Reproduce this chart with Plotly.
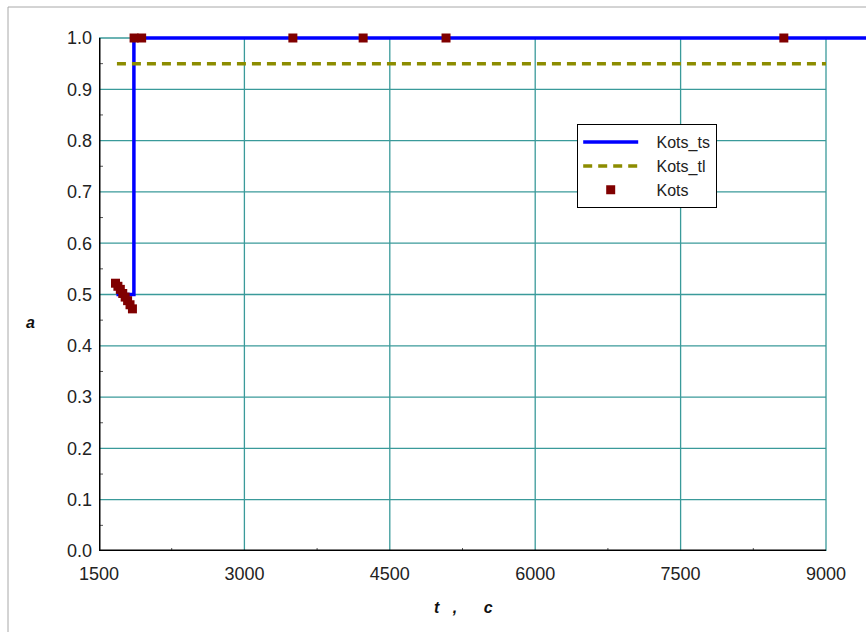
import plotly.graph_objects as go

# Kots_ts: step response
ts_t = [1680, 1860, 1860, 9500]
ts_a = [0.5, 0.5, 1.0, 1.0]

# Kots_tl: threshold level
tl_t = [1685, 9000]
tl_a = [0.95, 0.95]

# Kots: measured points
kots_t = [1670, 1695, 1720, 1745, 1770, 1795, 1820, 1845,
          1862, 1940, 3500, 4225, 5080, 8565]
kots_a = [0.522, 0.516, 0.510, 0.502, 0.495, 0.488, 0.480, 0.472,
          1.0, 1.0, 1.0, 1.0, 1.0, 1.0]

x_ticks = [1500, 3000, 4500, 6000, 7500, 9000]
y_ticks = [0.0, 0.1, 0.2, 0.3, 0.4, 0.5, 0.6, 0.7, 0.8, 0.9, 1.0]

X_MIN, X_MAX = 1500, 9000
Y_MIN, Y_MAX = 0.0, 1.0

GRID = "#3a9a9a"
FONT = "Arial, Liberation Sans, sans-serif"
PAD = "\u00a0\u00a0\u00a0"

# plot area geometry (pixels)
W, H = 866, 632
L, T, R, B = 99, 30, 0, 81
pw = W - L - R
ph = H - T - B
px_per_unit = (826 - 99) / (X_MAX - X_MIN)
x_range_max = X_MIN + pw / px_per_unit
y_range_max = ph / (551 - 38)

fig = go.Figure()

fig.add_trace(go.Scatter(
    x=ts_t, y=ts_a, mode="lines", name=PAD + "Kots_ts",
    line=dict(color="#0000ff", width=3.5),
))
fig.add_trace(go.Scatter(
    x=tl_t, y=tl_a, mode="lines", name=PAD + "Kots_tl",
    line=dict(color="#8c8c00", width=3.5, dash="9px,6px"),
))
fig.add_trace(go.Scatter(
    x=kots_t, y=kots_a, mode="markers", name=PAD + "Kots",
    marker=dict(symbol="square", size=9, color="#800000"),
    cliponaxis=False,
))

shapes = []
# grid lines limited to the axis box
for xv in x_ticks[1:]:
    shapes.append(dict(type="line", xref="x", yref="y", x0=xv, x1=xv,
                       y0=Y_MIN, y1=Y_MAX, line=dict(color=GRID, width=1.3),
                       layer="below"))
for yv in y_ticks[1:]:
    shapes.append(dict(type="line", xref="x", yref="y", x0=X_MIN, x1=X_MAX,
                       y0=yv, y1=yv, line=dict(color=GRID, width=1.3),
                       layer="below"))
# minor ticks (inside)
for k in range(len(x_ticks) - 1):
    xm = (x_ticks[k] + x_ticks[k + 1]) / 2
    shapes.append(dict(type="line", xref="x", yref="paper", x0=xm, x1=xm,
                       y0=0, y1=3 / ph, line=dict(color="#555555", width=1)))
for k in range(len(y_ticks) - 1):
    ym = (y_ticks[k] + y_ticks[k + 1]) / 2
    shapes.append(dict(type="line", xref="paper", yref="y", x0=0, x1=4 / pw,
                       y0=ym, y1=ym, line=dict(color="#555555", width=1)))
# axis lines
shapes.append(dict(type="line", xref="x", yref="y", x0=X_MIN, x1=X_MAX,
                   y0=Y_MIN, y1=Y_MIN, line=dict(color="black", width=3)))
shapes.append(dict(type="line", xref="x", yref="y", x0=X_MIN, x1=X_MIN,
                   y0=Y_MIN, y1=Y_MAX, line=dict(color="black", width=3)))
# outer frame
shapes.append(dict(type="rect", xref="paper", yref="paper",
                   x0=(8 - L) / pw, x1=1.2, y0=-0.5, y1=(H - B - 7) / ph,
                   line=dict(color="#a8a8a8", width=1), layer="below"))

tick_font = dict(family=FONT, size=18, color="#222222")

fig.update_layout(
    width=W, height=H,
    margin=dict(l=L, r=R, t=T, b=B),
    paper_bgcolor="white", plot_bgcolor="white",
    font=dict(family=FONT, size=16, color="#222222"),
    showlegend=True,
    legend=dict(
        x=(577 - L) / pw, y=(H - B - 124) / ph, xanchor="left", yanchor="top",
        bgcolor="white", bordercolor="black", borderwidth=1.2,
        font=dict(family=FONT, size=16, color="#222222"),
        tracegroupgap=0, itemwidth=55,
    ),
    shapes=shapes,
    xaxis=dict(
        range=[X_MIN, x_range_max], tickvals=x_ticks,
        ticktext=[str(v) for v in x_ticks], tickfont=tick_font,
        showgrid=False, zeroline=False, showline=False, ticks="",
        ticklabelstandoff=10,
    ),
    yaxis=dict(
        range=[Y_MIN, y_range_max], tickvals=y_ticks,
        ticktext=[f"{v:.1f}" for v in y_ticks], tickfont=tick_font,
        showgrid=False, zeroline=False, showline=False, ticks="",
        ticklabelstandoff=6,
    ),
    annotations=[
        dict(text="<b><i>a</i></b>", xref="paper", yref="paper",
             x=(30 - L) / pw, y=(H - B - 322) / ph, showarrow=False,
             xanchor="center", yanchor="middle",
             font=dict(family=FONT, size=16, color="#111111")),
        dict(text="<b><i>t   ,      c</i></b>", xref="paper", yref="paper",
             x=(463 - L) / pw, y=(H - B - 607) / ph, showarrow=False,
             xanchor="center", yanchor="middle",
             font=dict(family=FONT, size=16, color="#111111")),
    ],
)

fig.write_html("out.html")
